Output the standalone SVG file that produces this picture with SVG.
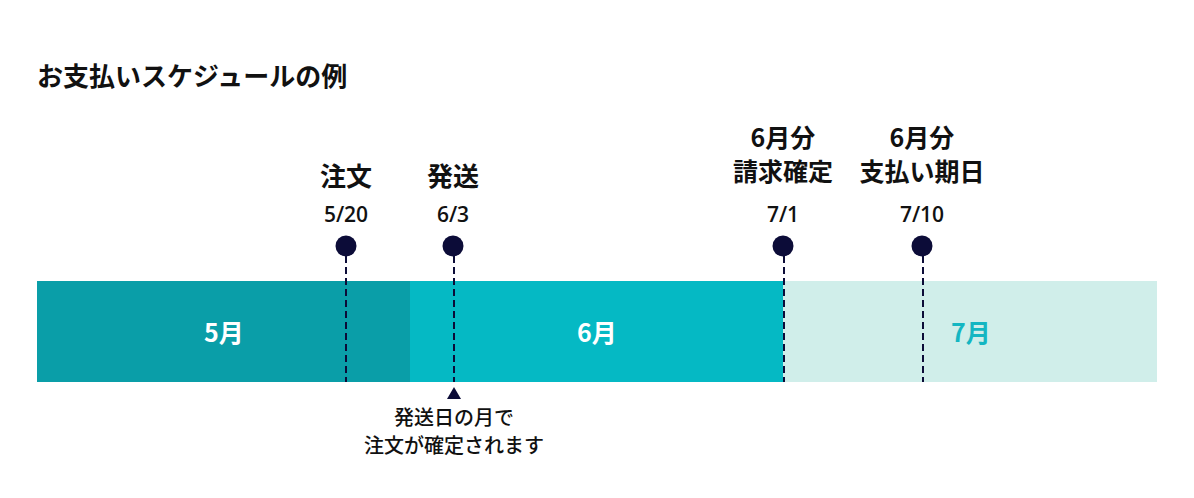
<svg xmlns="http://www.w3.org/2000/svg" width="1194" height="498" viewBox="0 0 1194 498">
<style>
text{font-family:"Noto Sans CJK JP","Noto Sans",sans-serif;fill:#111;}
.t{font-size:26px;font-weight:700;}
.h{font-size:26px;font-weight:700;text-anchor:middle;}
.h2{font-size:25px;font-weight:700;text-anchor:middle;}
.d{font-size:21px;font-weight:600;text-anchor:middle;font-family:"Open Sans","Noto Sans",sans-serif;}
.m{font-size:25px;font-weight:700;text-anchor:middle;fill:#fff;}
.n{font-size:20px;font-weight:500;text-anchor:middle;}
.dot{fill:#0c0c38;}
.dash{stroke:#0c0c38;stroke-width:2;stroke-dasharray:7,4;fill:none;}
</style>
<rect width="1194" height="498" fill="#fff"/>
<text class="t" x="37" y="86">お支払いスケジュールの例</text>
<g id="months">
<rect x="37" y="281" width="374" height="101" fill="#0a9ea8"/>
<rect x="410" y="281" width="374" height="101" fill="#05b9c4"/>
<rect x="783" y="281" width="374" height="101" fill="#d0eeea"/>
<text class="m" x="224" y="342">5月</text>
<text class="m" x="597" y="342">6月</text>
<text class="m" x="971" y="342" style="fill:#14b6c2">7月</text>
</g>
<g id="connectors">
<line class="dash" x1="346" y1="256" x2="346" y2="382"/>
<line class="dash" x1="454" y1="256" x2="454" y2="382"/>
<line class="dash" x1="784" y1="256" x2="784" y2="382"/>
<line class="dash" x1="923" y1="256" x2="923" y2="382"/>
</g>
<g id="order">
<text class="h" x="346" y="186">注文</text>
<text class="d" x="346" y="222">5/20</text>
<circle class="dot" cx="346" cy="246" r="10.5"/>
</g>
<g id="ship">
<text class="h" x="453" y="186">発送</text>
<text class="d" x="453" y="222">6/3</text>
<circle class="dot" cx="453" cy="246" r="10.5"/>
<polygon class="dot" points="454,387 461,399 447,399"/>
<text class="n" x="454" y="425">発送日の月で</text>
<text class="n" x="454" y="453">注文が確定されます</text>
</g>
<g id="billing">
<text class="h2" x="783" y="147">6月分</text>
<text class="h2" x="783" y="181">請求確定</text>
<text class="d" x="783" y="222">7/1</text>
<circle class="dot" cx="783" cy="246" r="10.5"/>
</g>
<g id="payment">
<text class="h2" x="922" y="147">6月分</text>
<text class="h2" x="922" y="181">支払い期日</text>
<text class="d" x="922" y="222">7/10</text>
<circle class="dot" cx="922" cy="246" r="10.5"/>
</g>
</svg>
